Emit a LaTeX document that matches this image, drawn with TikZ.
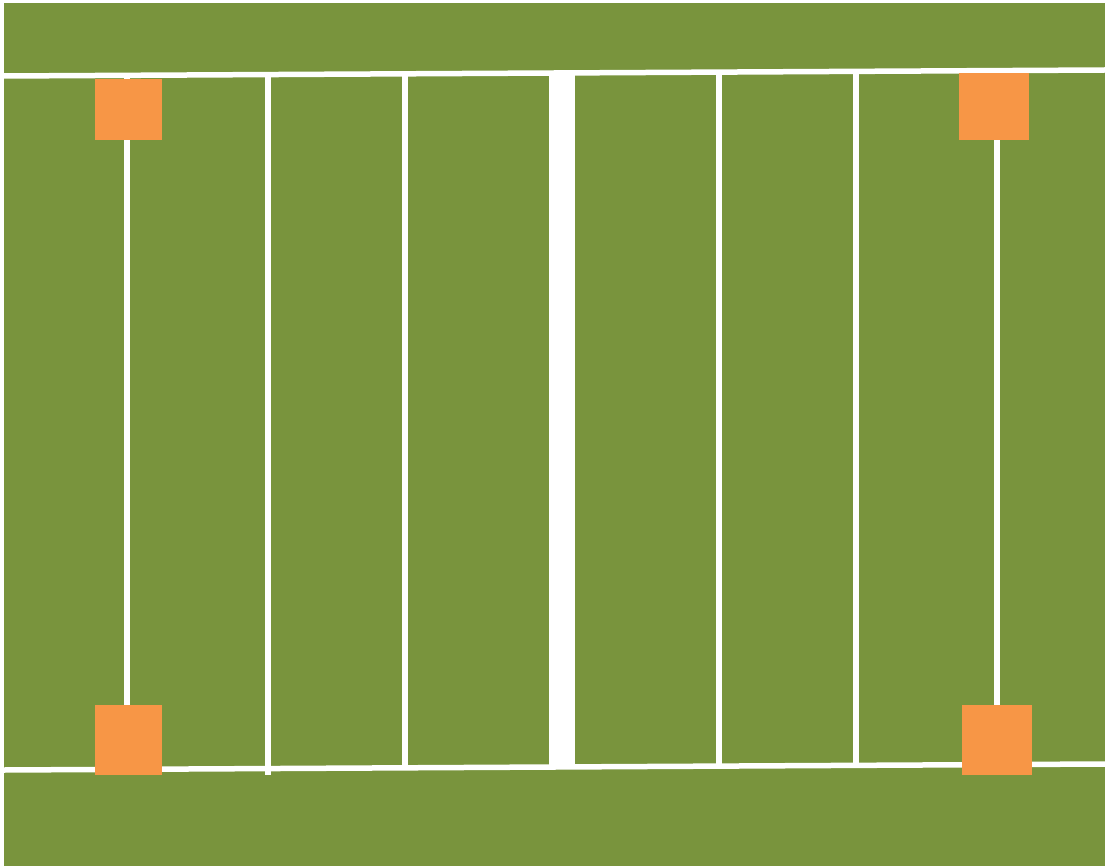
\documentclass[tikz,border=0pt]{standalone}
\definecolor{fieldgreen}{HTML}{79943D}
\definecolor{padorange}{HTML}{F79646}
\tikzset{
  yardline/.style={draw=white, line width=5.5pt},
  midline/.style={fill=white},
  pad/.style={fill=padorange},
}
\begin{document}
\begin{tikzpicture}[x=1pt,y=-1pt]
\useasboundingbox (0,0) rectangle (1105,866);
\fill[white] (0,0) rectangle (1105,866);
\fill[fieldgreen] (4,3) rectangle (1105,866);
% vertical yard lines
\coordinate (t1) at (127,75.3); \coordinate (b1) at (127,775);
\coordinate (t2) at (268,74.5); \coordinate (b2) at (268,775);
\coordinate (t3) at (405,73.8); \coordinate (b3) at (405,768);
\coordinate (t4) at (719,72.1); \coordinate (b4) at (719,766);
\coordinate (t5) at (856,71.3); \coordinate (b5) at (856,765.5);
\coordinate (t6) at (997,70.6); \coordinate (b6) at (997,775);
\foreach \i in {1,...,6} {\draw[yardline] (t\i) -- (b\i);}
% sidelines
\coordinate (tl) at (4,76); \coordinate (tr) at (1105,70);
\coordinate (bl) at (4,770); \coordinate (br) at (1105,764);
\draw[yardline] (tl) -- (tr);
\draw[yardline] (bl) -- (br);
% centre band
\fill[midline] (549,72) rectangle (575,768);
% pylons
\fill[pad] (95,79) rectangle (162,140);
\fill[pad] (959,73) rectangle (1029,140);
\fill[pad] (95,705) rectangle (162,775);
\fill[pad] (962,705) rectangle (1032,775);
\end{tikzpicture}
\end{document}
